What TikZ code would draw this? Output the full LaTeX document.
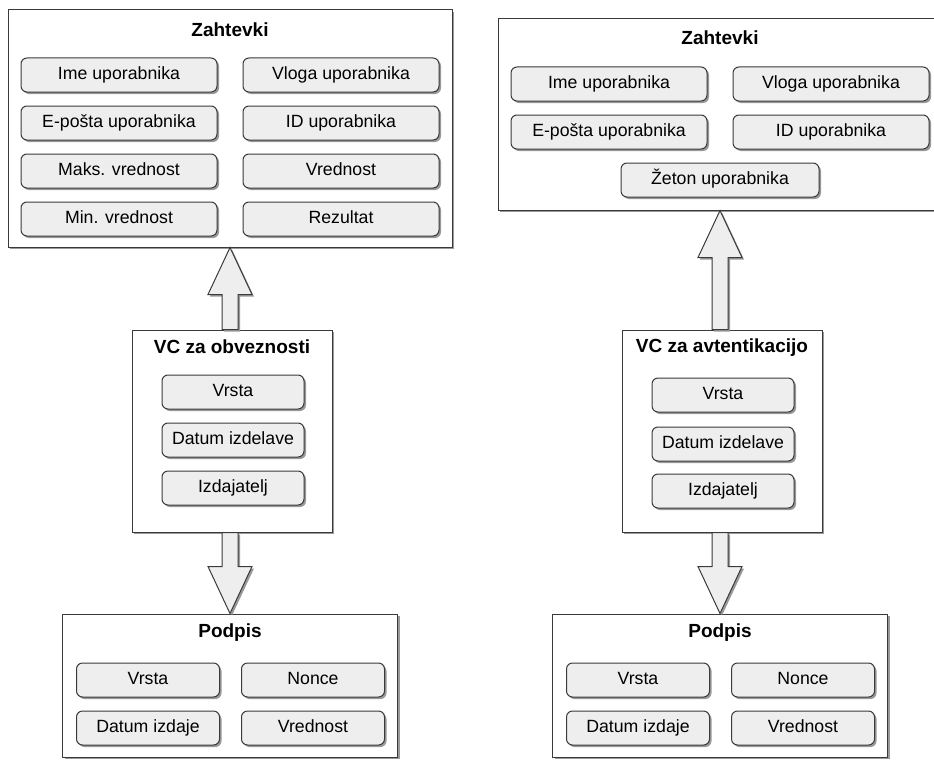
\documentclass[tikz,border=0pt]{standalone}
\usepackage{fontspec}
\setmainfont{Liberation Sans}
\usetikzlibrary{shadows,calc}

\definecolor{fieldgray}{HTML}{EEEEEE}
\definecolor{edgegray}{HTML}{3A3A3A}

\tikzset{
  softshadow/.style={drop shadow={shadow xshift=2pt, shadow yshift=-2pt, fill=black!40, opacity=1}},
  panel/.style={draw=edgegray, fill=white, line width=1pt, inner sep=0pt, softshadow},
  field/.style={draw=edgegray, fill=fieldgray, line width=1pt, rounded corners=6pt,
    minimum width=#1, minimum height=34pt, inner sep=0pt, text height=12.7pt, text depth=3.7pt,
    font=\fontsize{17.7}{21}\selectfont, softshadow},
  heading/.style={font=\bfseries\fontsize{19}{23}\selectfont},
  blockarrow/.style={draw=edgegray, fill=fieldgray, line width=1pt, softshadow}
}

\begin{document}
\begin{tikzpicture}[x=1pt, y=-1pt]
        \useasboundingbox (0,0) rectangle (934,760);
        \clip (0,0) rectangle (934,760);
        % Left: VC za obveznosti
        \node [panel, minimum width=444pt, minimum height=237pt] (zahL) at (230,128.5) {};
        \node [heading] (zahLt) at (230,30) {Zahtevki};
        \node [field=196pt] (imeL) at (119,75) {Ime uporabnika};
        \node [field=196pt] (vlogaL) at (341,75) {Vloga uporabnika};
        \node [field=196pt] (epostaL) at (119,123) {E-pošta uporabnika};
        \node [field=196pt] (idL) at (341,123) {ID uporabnika};
        \node [field=196pt] (maksL) at (119,171) {Maks. vrednost};
        \node [field=196pt] (vredL) at (341,171) {Vrednost};
        \node [field=196pt] (minL) at (119,219) {Min. vrednost};
        \node [field=196pt] (rezL) at (341,219) {Rezultat};

        \node [panel, minimum width=200pt, minimum height=202pt] (vcL) at (232,431) {};
        \node [heading] (vcLt) at (232,347) {VC za obveznosti};
        \node [field=142pt] (vrstaL) at (233,392) {Vrsta};
        \node [field=142pt] (datumL) at (233,440) {Datum izdelave};
        \node [field=142pt] (izdajL) at (233,488) {Izdajatelj};

        \node [panel, minimum width=335pt, minimum height=143pt] (podL) at (230,685.5) {};
        \node [heading] (podLt) at (230,633) {Podpis};
        \node [field=143pt] (pvrstaL) at (148,680) {Vrsta};
        \node [field=143pt] (nonceL) at (313,680) {Nonce};
        \node [field=143pt] (izdajeL) at (148,728) {Datum izdaje};
        \node [field=143pt] (pvredL) at (313,728) {Vrednost};

        % Right: VC za avtentikacijo
        \node [panel, minimum width=444pt, minimum height=191pt] (zahR) at (720,114.5) {};
        \node [heading] (zahRt) at (720,38) {Zahtevki};
        \node [field=196pt] (imeR) at (609,84) {Ime uporabnika};
        \node [field=196pt] (vlogaR) at (831,84) {Vloga uporabnika};
        \node [field=196pt] (epostaR) at (609,132) {E-pošta uporabnika};
        \node [field=196pt] (idR) at (831,132) {ID uporabnika};
        \node [field=198pt] (zetonR) at (720,180) {Žeton uporabnika};

        \node [panel, minimum width=200pt, minimum height=202pt] (vcR) at (722,431) {};
        \node [heading] (vcRt) at (722,348) {VC za avtentikacijo};
        \node [field=142pt] (vrstaR) at (723,395) {Vrsta};
        \node [field=142pt] (datumR) at (723,444) {Datum izdelave};
        \node [field=142pt] (izdajR) at (723,491) {Izdajatelj};

        \node [panel, minimum width=335pt, minimum height=143pt] (podR) at (720,685.5) {};
        \node [heading] (podRt) at (720,633) {Podpis};
        \node [field=143pt] (pvrstaR) at (638,680) {Vrsta};
        \node [field=143pt] (nonceR) at (803,680) {Nonce};
        \node [field=143pt] (izdajeR) at (638,728) {Datum izdaje};
        \node [field=143pt] (pvredR) at (803,728) {Vrednost};

        % Block arrows
        \draw [blockarrow] ($(zahL.south |- vcL.north)+(-8,0)$) -- ($(zahL.south)+(-8,47)$)
                -- ($(zahL.south)+(-22,47)$) -- (zahL.south) -- ($(zahL.south)+(22,47)$)
                -- ($(zahL.south)+(8,47)$) -- ($(zahL.south |- vcL.north)+(8,0)$) -- cycle;
        \draw [blockarrow] ($(podL.north |- vcL.south)+(-8,0)$) -- ($(podL.north)+(-8,-47)$)
                -- ($(podL.north)+(-22,-47)$) -- (podL.north) -- ($(podL.north)+(22,-47)$)
                -- ($(podL.north)+(8,-47)$) -- ($(podL.north |- vcL.south)+(8,0)$) -- cycle;
        \draw [blockarrow] ($(zahR.south |- vcR.north)+(-8,0)$) -- ($(zahR.south)+(-8,47)$)
                -- ($(zahR.south)+(-22,47)$) -- (zahR.south) -- ($(zahR.south)+(22,47)$)
                -- ($(zahR.south)+(8,47)$) -- ($(zahR.south |- vcR.north)+(8,0)$) -- cycle;
        \draw [blockarrow] ($(podR.north |- vcR.south)+(-8,0)$) -- ($(podR.north)+(-8,-47)$)
                -- ($(podR.north)+(-22,-47)$) -- (podR.north) -- ($(podR.north)+(22,-47)$)
                -- ($(podR.north)+(8,-47)$) -- ($(podR.north |- vcR.south)+(8,0)$) -- cycle;
\end{tikzpicture}
\end{document}
